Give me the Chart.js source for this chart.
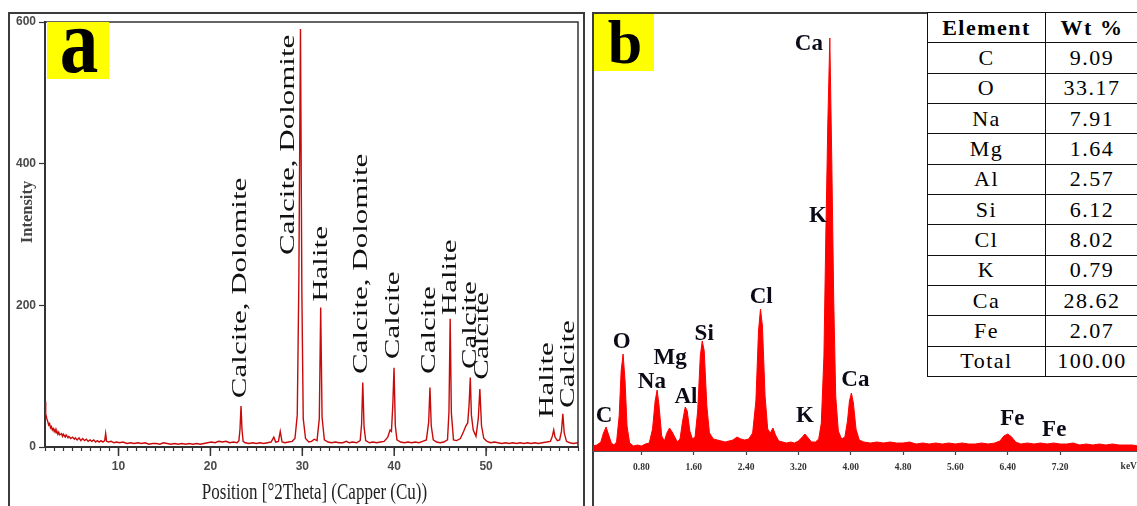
<!DOCTYPE html>
<html>
<head>
<meta charset="utf-8">
<script src="https://cdn.jsdelivr.net/npm/chart.js@4.4.1/dist/chart.umd.min.js"></script>
<style>
  html, body { margin: 0; padding: 0; background: #fff; }
  body { width: 1137px; height: 506px; position: relative; overflow: hidden; font-family: "Liberation Serif", serif; }
  .frame { position: absolute; border: 2px solid #3c3c3c; box-sizing: border-box; }
  #frameA { left: 8px; top: 12px; width: 577px; height: 530px; }
  #frameB { left: 592px; top: 12px; width: 570px; height: 530px; }
  #xrd { position: absolute; left: 0; top: 0; }
  #eds { position: absolute; left: 593px; top: 0; }
  #wt { position: absolute; left: 927px; top: 12px; width: 212px; height: 365px; border-collapse: collapse; background: #fff; }
  #wt td, #wt th { border: 1.6px solid #111; padding: 0; text-align: center; font-size: 22px; line-height: 1; color: #000; letter-spacing: 1.5px; font-weight: normal; }
  #wt th { font-weight: bold; }
  #wt td:first-child, #wt th:first-child { width: 117px; }
</style>
</head>
<body>
<div class="frame" id="frameA"></div>
<div class="frame" id="frameB"></div>
<canvas id="xrd" width="586" height="506"></canvas>
<canvas id="eds" width="560" height="506"></canvas>
<table id="wt"></table>

<script>
// ---- panel a : XRD pattern  [2theta, intensity] ----
const xrdScan = [
  [2.0,64],[2.05,55],[2.1,47],[2.2,40],[2.3,36],[2.4,31],[2.5,33],[2.6,27],[2.7,29],[2.8,24],[2.9,26],
  [3.0,22],[3.1,25],[3.2,20],[3.3,22],[3.4,18],[3.5,21],[3.6,17],[3.8,19],[3.9,15],[4.0,18],[4.2,14],
  [4.3,17],[4.5,13],[4.6,15],[4.8,12],[5.0,14],[5.2,11],[5.3,13],[5.5,10],[5.7,13],[5.9,9],[6.1,12],
  [6.3,9],[6.5,11],[6.7,8],[6.9,10],[7.1,8],[7.3,10],[7.5,7],[7.7,9],[7.9,7],[8.1,9],[8.3,7],[8.5,9],
  [8.6,19],[8.7,8],[8.9,7],[9.2,8],[9.5,6],[9.8,7],[10.1,6],[10.5,7],[10.9,5],[11.3,6],[11.7,5],[12.1,6],
  [12.5,5],[12.9,6],[13.3,4],[13.7,5],[14.1,5],[14.5,4],[14.9,6],[15.3,5],[15.7,4],[16.1,5],[16.5,4],
  [16.9,5],[17.3,4],[17.7,5],[18.1,4],[18.5,5],[18.9,4],[19.3,5],[19.7,6],[20.1,7],[20.5,6],[20.9,8],
  [21.3,7],[21.7,8],[22.1,6],[22.5,7],[22.9,6],[23.1,9],[23.22,25],[23.33,58],[23.44,24],[23.56,8],
  [23.8,6],[24.2,5],[24.6,6],[25.0,5],[25.4,6],[25.8,5],[26.2,6],[26.6,7],[26.9,14],[27.1,7],[27.4,8],
  [27.6,22],[27.8,7],[28.1,6],[28.5,7],[28.9,8],[29.2,12],[29.45,45],[29.62,230],[29.8,590],[29.95,220],
  [30.1,40],[30.35,12],[30.7,7],[31.0,8],[31.3,11],[31.6,9],[31.85,40],[32.0,197],[32.15,42],[32.4,10],
  [32.8,7],[33.2,6],[33.6,7],[34.0,6],[34.4,6],[34.8,8],[35.1,6],[35.5,7],[35.9,6],[36.3,9],[36.45,32],
  [36.58,91],[36.72,28],[36.9,9],[37.3,6],[37.7,7],[38.1,6],[38.5,7],[38.9,8],[39.3,14],[39.55,24],
  [39.7,22],[39.85,60],[39.98,112],[40.12,30],[40.3,10],[40.7,7],[41.1,6],[41.5,7],[41.9,6],[42.3,7],
  [42.7,6],[43.1,8],[43.5,10],[43.75,35],[43.89,84],[44.03,30],[44.25,10],[44.6,7],[45.0,6],[45.4,7],
  [45.8,10],[45.96,50],[46.09,181],[46.22,48],[46.45,10],[46.8,9],[47.2,12],[47.55,22],[47.8,30],
  [48.0,34],[48.15,60],[48.28,98],[48.4,45],[48.6,24],[48.9,15],[49.15,40],[49.32,82],[49.5,30],
  [49.75,12],[50.1,8],[50.5,6],[50.9,7],[51.3,6],[51.7,5],[52.1,6],[52.5,5],[52.9,6],[53.3,5],[53.7,6],
  [54.1,5],[54.5,6],[54.9,5],[55.3,6],[55.7,5],[56.1,6],[56.6,7],[57.0,8],[57.2,15],[57.36,24],[57.5,14],
  [57.75,9],[58.0,10],[58.2,22],[58.35,47],[58.5,20],[58.75,8],[59.1,6],[59.5,5],[60.0,6]
];
const xrdTickLabels = [10, 20, 30, 40, 50];
const xrdPhases = ['Calcite, Dolomite', 'Calcite, Dolomite', 'Halite', 'Calcite, Dolomite', 'Calcite',
  'Calcite', 'Halite', 'Calcite', 'Calcite', 'Halite', 'Calcite'];
const xrdPhaseTheta = [23.3, 28.5, 32.1, 36.5, 40.0, 43.9, 46.1, 48.3, 49.6, 56.7, 59.0];
const xrdPhaseBase = [69, 271, 205, 103, 124, 103, 186, 110, 95, 41, 55];

// ---- panel b : EDS spectrum  [keV, counts] ----
const edsSpectrum = [
  [0.06,5],[0.12,6],[0.18,9],[0.22,18],[0.26,24],[0.30,16],[0.34,8],[0.38,6],[0.42,9],[0.46,35],[0.49,80],
  [0.52,97],[0.55,70],[0.58,25],[0.62,8],[0.68,5],[0.74,6],[0.80,5],[0.86,7],[0.92,8],[0.97,22],[1.01,50],
  [1.04,61],[1.07,45],[1.11,15],[1.15,10],[1.19,18],[1.23,23],[1.27,19],[1.31,14],[1.35,9],[1.39,12],
  [1.43,30],[1.47,44],[1.50,40],[1.54,20],[1.58,12],[1.62,14],[1.66,40],[1.70,95],[1.73,110],[1.76,100],
  [1.80,45],[1.84,18],[1.90,12],[1.96,11],[2.02,10],[2.08,9],[2.14,10],[2.20,11],[2.26,14],[2.32,12],
  [2.38,11],[2.44,12],[2.50,18],[2.55,50],[2.59,120],[2.62,142],[2.65,125],[2.69,55],[2.73,22],[2.77,18],
  [2.81,23],[2.85,16],[2.90,10],[2.96,9],[3.02,8],[3.08,9],[3.14,8],[3.20,10],[3.26,14],[3.30,17],
  [3.35,13],[3.40,9],[3.46,9],[3.51,12],[3.55,28],[3.59,95],[3.62,220],[3.65,330],[3.68,413],[3.71,290],
  [3.74,150],[3.77,55],[3.81,20],[3.86,12],[3.91,14],[3.95,30],[3.98,50],[4.01,58],[4.04,48],[4.08,22],
  [4.13,11],[4.20,9],[4.3,8],[4.4,9],[4.5,8],[4.6,9],[4.7,8],[4.8,8],[4.9,9],[5.0,7],[5.1,8],[5.2,7],
  [5.3,8],[5.4,7],[5.5,8],[5.6,7],[5.7,8],[5.8,7],[5.9,7],[6.0,8],[6.1,7],[6.2,8],[6.28,10],[6.34,15],
  [6.40,17],[6.46,14],[6.52,9],[6.6,7],[6.7,8],[6.8,7],[6.9,8],[7.0,7],[7.1,8],[7.2,7],[7.3,7],[7.4,8],
  [7.5,6],[7.6,7],[7.7,6],[7.8,7],[7.9,6],[8.0,7],[8.1,6],[8.2,6],[8.3,6],[8.4,5],[8.5,6],[8.62,5]
];
const edsTickLabels = [0.8, 1.6, 2.4, 3.2, 4.0, 4.8, 5.6, 6.4, 7.2];
const edsLines = ['Ca', 'K', 'Cl', 'Si', 'O', 'Mg', 'Na', 'Al', 'C', 'K', 'Ca', 'Fe', 'Fe'];
const edsLineKeV = [3.36, 3.50, 2.63, 1.76, 0.50, 1.24, 0.96, 1.48, 0.23, 3.30, 4.07, 6.47, 7.11];
const edsLineY = [401, 229, 148, 111, 103, 87, 63, 48, 29, 29, 65, 26, 15];

// ---- composition table ----
const tableElements = ['C', 'O', 'Na', 'Mg', 'Al', 'Si', 'Cl', 'K', 'Ca', 'Fe', 'Total'];
const tableWt = ['9.09', '33.17', '7.91', '1.64', '2.57', '6.12', '8.02', '0.79', '28.62', '2.07', '100.00'];

// texto estirado (la figura original viene deformada)
function drawStretched(ctx, text, x, y, sx, sy, rot) {
    ctx.save();
    ctx.translate(x, y);
    if (rot) ctx.rotate(rot);
    ctx.scale(sx, sy);
    ctx.fillText(text, 0, 0);
    ctx.restore();
}

const xrdDecor = {
    id: 'xrdDecor',
    afterDraw(chart) {
        const { ctx, chartArea: area, scales: { x, y } } = chart;
        ctx.save();
        ctx.strokeStyle = '#333';
        ctx.lineWidth = 1.5;
        ctx.beginPath();
        ctx.moveTo(area.left, area.top);
        ctx.lineTo(area.right, area.top);
        ctx.lineTo(area.right, area.bottom);
        ctx.stroke();

        // major ticks longer than minor ones
        xrdTickLabels.forEach(v => {
            const px = x.getPixelForValue(v);
            ctx.beginPath();
            ctx.moveTo(px, area.bottom);
            ctx.lineTo(px, area.bottom + 9);
            ctx.stroke();
        });

        ctx.fillStyle = '#ffff00';
        ctx.fillRect(area.left + 2, area.top, 62, 57);
        ctx.fillStyle = '#000';
        ctx.font = 'bold 84px "Liberation Serif"';
        ctx.textAlign = 'center';
        ctx.textBaseline = 'alphabetic';
        drawStretched(ctx, 'a', area.left + 34, area.top + 50, 0.92, 1.1);

        ctx.font = '20px "Liberation Serif"';
        ctx.fillStyle = '#111';
        ctx.textAlign = 'left';
        ctx.textBaseline = 'middle';
        xrdPhases.forEach((name, i) => {
            drawStretched(ctx, name, x.getPixelForValue(xrdPhaseTheta[i]),
                y.getPixelForValue(xrdPhaseBase[i]), 1.55, 1, -Math.PI / 2);
        });

        ctx.fillStyle = '#222';
        ctx.textAlign = 'center';
        ctx.textBaseline = 'alphabetic';
        ctx.font = '17px "Liberation Serif"';
        drawStretched(ctx, 'Position [°2Theta] (Capper (Cu))', (area.left + area.right) / 2 + 3, 499, 1, 1.35);

        ctx.fillStyle = '#444';
        ctx.textBaseline = 'middle';
        ctx.font = 'bold 16.5px "Liberation Serif"';
        drawStretched(ctx, 'Intensity', 28, 212, 1, 1, -Math.PI / 2);
        ctx.restore();
    }
};

const edsDecor = {
    id: 'edsDecor',
    afterDraw(chart) {
        const { ctx, chartArea: area, scales: { x, y } } = chart;
        ctx.save();
        ctx.fillStyle = '#ffff00';
        ctx.fillRect(area.left + 1, area.top + 1, 60, 57);
        ctx.fillStyle = '#000';
        ctx.font = 'bold 62px "Liberation Serif"';
        ctx.textAlign = 'center';
        ctx.textBaseline = 'alphabetic';
        ctx.fillText('b', area.left + 32, area.top + 50);

        ctx.font = 'bold 23px "Liberation Serif"';
        ctx.fillStyle = '#0b0b18';
        edsLines.forEach((name, i) => {
            ctx.fillText(name, x.getPixelForValue(edsLineKeV[i]), y.getPixelForValue(edsLineY[i]));
        });

        ctx.font = 'bold 9.5px "Liberation Serif"';
        ctx.fillStyle = '#333';
        ctx.textBaseline = 'middle';
        ctx.fillText('keV', x.getPixelForValue(8.25), area.bottom + 16);
        ctx.restore();
    }
};

new Chart(document.getElementById('xrd'), {
    type: 'line',
    data: {
        datasets: [{
            data: xrdScan.map(([t, i]) => ({ x: t, y: i })),
            borderColor: '#c80a0a',
            borderWidth: 1.4,
            pointRadius: 0,
            tension: 0
        }]
    },
    options: {
        responsive: false,
        animation: false,
        layout: { padding: { top: 22, right: 3, left: 0, bottom: 0 } },
        plugins: { legend: { display: false }, tooltip: { enabled: false } },
        scales: {
            x: {
                type: 'linear', min: 2, max: 60,
                afterBuildTicks(scale) {
                    const t = [];
                    for (let v = 2; v <= 60; v++) t.push({ value: v });
                    scale.ticks = t;
                },
                afterFit(scale) { scale.height = 59; },
                ticks: {
                    autoSkip: false, maxRotation: 0, padding: 8, color: '#4a4a4a',
                    font: { family: 'Liberation Sans', size: 12, weight: 'bold' },
                    callback: v => xrdTickLabels.includes(v) ? String(v) : ''
                },
                grid: { drawOnChartArea: false, tickLength: 4, color: '#333', tickWidth: 1.2 },
                border: { display: true, color: '#333', width: 2 }
            },
            y: {
                min: 0, max: 600,
                afterFit(scale) { scale.width = 45; },
                ticks: {
                    stepSize: 200, padding: 3, color: '#4a4a4a',
                    font: { family: 'Liberation Sans', size: 12, weight: 'bold' }
                },
                grid: { drawOnChartArea: false, tickLength: 6, color: '#333', tickWidth: 1.2 },
                border: { display: true, color: '#333', width: 2 }
            }
        }
    },
    plugins: [xrdDecor]
});

new Chart(document.getElementById('eds'), {
    type: 'line',
    data: {
        datasets: [{
            data: edsSpectrum.map(([k, c]) => ({ x: k, y: c })),
            borderColor: '#ff0000',
            backgroundColor: '#ff0000',
            borderWidth: 1,
            fill: 'origin',
            pointRadius: 0,
            tension: 0
        }]
    },
    options: {
        responsive: false,
        animation: false,
        layout: { padding: { top: 13, right: 0, left: 0, bottom: 0 } },
        plugins: { legend: { display: false }, tooltip: { enabled: false } },
        scales: {
            x: {
                type: 'linear', min: 0.06, max: 8.62,
                afterBuildTicks(scale) { scale.ticks = edsTickLabels.map(v => ({ value: v })); },
                afterFit(scale) { scale.height = 55; },
                ticks: {
                    autoSkip: false, maxRotation: 0, padding: 7, color: '#333',
                    font: { family: 'Liberation Serif', size: 9.5, weight: 'bold' },
                    callback: v => v.toFixed(2)
                },
                grid: { drawOnChartArea: false, tickLength: 4, color: '#444', tickWidth: 1.2 },
                border: { display: true, color: '#555', width: 2 }
            },
            y: { display: false, min: 0, max: 438 }
        }
    },
    plugins: [edsDecor]
});

// tabla de composición
const tabla = document.getElementById('wt');
tabla.innerHTML = '<tr><th>Element</th><th>Wt %</th></tr>' +
    tableElements.map((el, i) => `<tr><td>${el}</td><td>${tableWt[i]}</td></tr>`).join('');
</script>
</body>
</html>
